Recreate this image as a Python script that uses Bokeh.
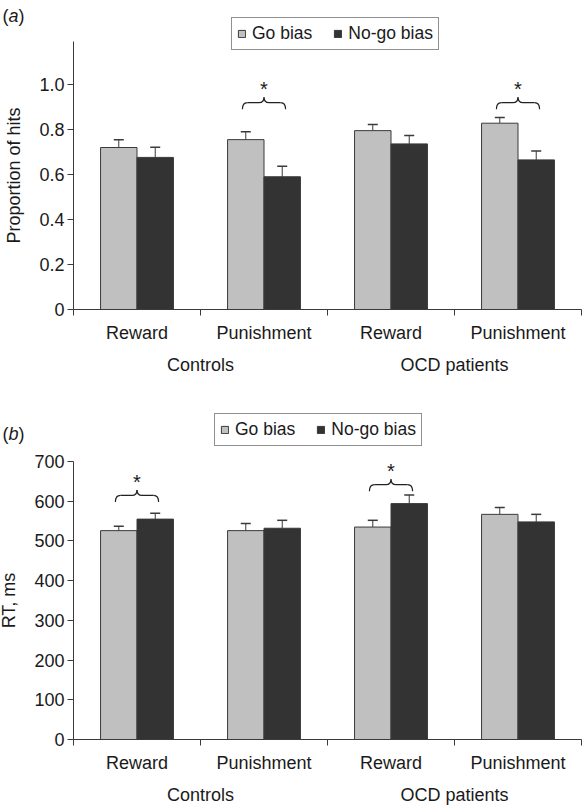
from bokeh.plotting import figure
from bokeh.models import (ColumnDataSource, FixedTicker, LinearAxis, Whisker, TeeHead,
                          Legend, LegendItem, Label, Range1d)
from bokeh.layouts import column
from bokeh.embed import file_html
from bokeh.resources import INLINE
from bokeh.core.properties import value

# ---------------- data ----------------
groups = ["Controls", "OCD patients"]
conditions = ["Reward", "Punishment", "Reward", "Punishment"]
series = ["Go bias", "No-go bias"]

# panel (a): proportion of hits
a_go = [0.720, 0.755, 0.795, 0.828]
a_go_err = [0.035, 0.035, 0.027, 0.025]
a_nogo = [0.676, 0.590, 0.736, 0.665]
a_nogo_err = [0.045, 0.047, 0.037, 0.040]
a_yticks = [0, 0.2, 0.4, 0.6, 0.8, 1.0]
a_ytick_labels = ["0", "0.2", "0.4", "0.6", "0.8", "1.0"]
a_ymax = 1.19
a_sig_cat = [1, 3]
a_sig_level = [0.89, 0.89]

# panel (b): RT, ms
b_go = [526, 526, 535, 567]
b_go_err = [11, 18, 17, 17]
b_nogo = [555, 532, 594, 548]
b_nogo_err = [15, 20, 22, 19]
b_yticks = [0, 100, 200, 300, 400, 500, 600, 700]
b_ytick_labels = ["0", "100", "200", "300", "400", "500", "600", "700"]
b_ymax = 700
b_sig_cat = [0, 2]
b_sig_level = [598, 625]

FONT = "Liberation Sans"
TXT = "#1a1a1a"
GO_COL = "#c0c0c0"
NOGO_COL = "#333333"
EDGE = "#3a3a3a"

W = 585
AXIS_X = 73      # px of y axis from canvas left
PPC = 127        # px per category


def make_panel(tag, go, go_err, nogo, nogo_err, yticks, ylabels, ymax, ylabel,
               sig_cat, sig_level, height, zero_px, ppu, legend_xy, tag_y):
    n = len(conditions)
    x_range = Range1d(-AXIS_X / PPC, (W - AXIS_X) / PPC)
    y_range = Range1d(-(height - zero_px) / ppu, zero_px / ppu)
    p = figure(width=W, height=height, output_backend="svg", toolbar_location=None,
               x_range=x_range, y_range=y_range,
               x_axis_location=None, y_axis_location=None, min_border=0)
    p.min_border_left = p.min_border_right = p.min_border_top = p.min_border_bottom = 0
    p.outline_line_color = None
    p.background_fill_color = "white"
    p.border_fill_color = "white"
    p.xgrid.visible = False
    p.ygrid.visible = False

    px_x = 1.0 / PPC
    px_y = 1.0 / ppu

    bw = 0.287
    centers = [i + 0.5 for i in range(n)]
    x_go = [c - bw / 2 for c in centers]
    x_nogo = [c + bw / 2 for c in centers]

    src_go = ColumnDataSource(dict(x=x_go, top=go, up=[v + e for v, e in zip(go, go_err)]))
    src_ng = ColumnDataSource(dict(x=x_nogo, top=nogo, up=[v + e for v, e in zip(nogo, nogo_err)]))

    r_go = p.vbar(x="x", top="top", bottom=0, width=bw, source=src_go,
                  fill_color=GO_COL, line_color=EDGE, line_width=1)
    r_ng = p.vbar(x="x", top="top", bottom=0, width=bw, source=src_ng,
                  fill_color=NOGO_COL, line_color=EDGE, line_width=1)

    for src in (src_go, src_ng):
        w = Whisker(base="x", lower="top", upper="up", source=src,
                    line_color=EDGE, line_width=1,
                    upper_head=TeeHead(size=10, line_color=EDGE, line_width=1.5),
                    lower_head=None)
        p.add_layout(w)

    # significance braces
    bh = 12 * px_y
    half = 0.17
    r = 5 * px_x
    qx0, qy0, qx1, qy1, qcx, qcy = [], [], [], [], [], []
    sx0, sy0, sx1, sy1 = [], [], [], []
    ax, ay = [], []
    for ci, lvl in zip(sig_cat, sig_level):
        xm = centers[ci]
        x0, x1 = xm - half, xm + half
        yb, ym, yt = lvl, lvl + 0.55 * bh, lvl + bh
        curves = [((x0, yb), (x0 + r, ym), (x0, ym)),
                  ((xm - r, ym), (xm, yt), (xm, ym)),
                  ((xm, yt), (xm + r, ym), (xm, ym)),
                  ((x1 - r, ym), (x1, yb), (x1, ym))]
        for (a0, b0), (a1, b1), (c0, c1) in curves:
            qx0.append(a0); qy0.append(b0); qx1.append(a1); qy1.append(b1)
            qcx.append(c0); qcy.append(c1)
        for a0, a1 in ((x0 + r, xm - r), (xm + r, x1 - r)):
            sx0.append(a0); sx1.append(a1); sy0.append(ym); sy1.append(ym)
        ax.append(xm); ay.append(yt)
    p.quadratic(x0=qx0, y0=qy0, x1=qx1, y1=qy1, cx=qcx, cy=qcy,
                line_color="#222222", line_width=1.2)
    p.segment(x0=sx0, y0=sy0, x1=sx1, y1=sy1, line_color="#222222", line_width=1.2)
    p.text(x=ax, y=ay, text=["*"] * len(ax), text_font=value(FONT),
           text_font_size="20px", text_align="center", text_baseline="alphabetic",
           y_offset=-8, text_color=TXT)

    # y axis
    ya = LinearAxis(ticker=FixedTicker(ticks=yticks), fixed_location=0, bounds=(0, ymax))
    ya.major_label_overrides = {t: l for t, l in zip(yticks, ylabels)}
    ya.axis_label = ylabel
    ya.axis_label_text_font = FONT
    ya.axis_label_text_font_style = "normal"
    ya.axis_label_text_font_size = "18px"
    ya.axis_label_text_color = TXT
    ya.axis_label_standoff = 12
    ya.major_label_text_font = FONT
    ya.major_label_text_font_size = "18px"
    ya.major_label_text_color = TXT
    ya.major_label_standoff = 3
    ya.major_tick_out = 6
    ya.major_tick_in = 0
    ya.minor_tick_line_color = None
    ya.axis_line_color = EDGE
    ya.major_tick_line_color = EDGE
    p.add_layout(ya, "left")

    # x axis: condition labels with boundary ticks
    xa = LinearAxis(ticker=FixedTicker(ticks=centers, minor_ticks=list(range(n + 1))),
                    fixed_location=0, bounds=(0, n))
    xa.major_label_overrides = {c: l for c, l in zip(centers, conditions)}
    xa.major_tick_out = 0
    xa.major_tick_in = 0
    xa.major_tick_line_color = None
    xa.minor_tick_out = 6
    xa.minor_tick_in = 0
    xa.minor_tick_line_color = EDGE
    xa.axis_line_color = EDGE
    xa.major_label_text_font = FONT
    xa.major_label_text_font_size = "18px"
    xa.major_label_text_color = TXT
    xa.major_label_standoff = 7
    p.add_layout(xa, "below")

    # x axis: group labels
    gcenters = [2 * i + 1 for i in range(len(groups))]
    ga = LinearAxis(ticker=FixedTicker(ticks=gcenters), fixed_location=0)
    ga.major_label_overrides = {c: l for c, l in zip(gcenters, groups)}
    ga.axis_line_color = None
    ga.major_tick_line_color = None
    ga.minor_tick_line_color = None
    ga.major_label_text_font = FONT
    ga.major_label_text_font_size = "18px"
    ga.major_label_text_color = TXT
    ga.major_label_standoff = 39
    p.add_layout(ga, "below")

    # legend
    legend = Legend(items=[LegendItem(label=series[0], renderers=[r_go]),
                           LegendItem(label=series[1], renderers=[r_ng])],
                    location=legend_xy, orientation="horizontal",
                    glyph_width=9, glyph_height=9, label_standoff=6, spacing=21,
                    padding=5, margin=0, label_height=16,
                    label_text_font=FONT, label_text_font_size="17.5px",
                    label_text_color=TXT, border_line_color="#222222",
                    border_line_width=1.2, background_fill_color="white",
                    background_fill_alpha=1.0)
    p.add_layout(legend)

    # panel tag "(a)" / "(b)"
    for txt, dx, style in (("(", 2, "normal"), (tag, 8, "italic"), (")", 18, "normal")):
        p.add_layout(Label(x=dx, y=tag_y, x_units="screen", y_units="screen", text=txt,
                           text_font=FONT, text_font_size="18px", text_font_style=style,
                           text_color=TXT, text_baseline="middle"))
    return p


HA, HB = 400, 407
pa = make_panel("a", a_go, a_go_err, a_nogo, a_nogo_err, a_yticks, a_ytick_labels, a_ymax,
                "Proportion of hits", a_sig_cat, a_sig_level,
                height=HA, zero_px=309, ppu=225, legend_xy=(231, HA - 50), tag_y=HA - 15)
pb = make_panel("b", b_go, b_go_err, b_nogo, b_nogo_err, b_yticks, b_ytick_labels, b_ymax,
                "RT, ms", b_sig_cat, b_sig_level,
                height=HB, zero_px=339, ppu=0.3971, legend_xy=(214, HB - 46), tag_y=HB - 33)

layout = column(pa, pb, spacing=0)
open("out.html", "w").write(file_html(layout, INLINE))
